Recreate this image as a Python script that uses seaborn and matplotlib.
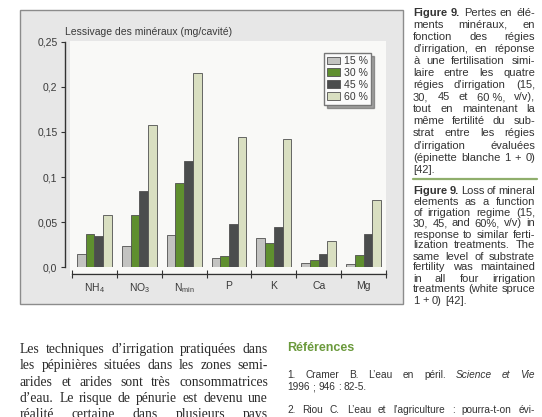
import numpy as np
import pandas as pd
import matplotlib
matplotlib.use('Agg')
import matplotlib.pyplot as plt
from matplotlib.patches import Rectangle
from matplotlib.lines import Line2D
import seaborn as sns

# Chart values (mg/cavité)
elements = [r'NH$_4$', r'NO$_3$', r'N$_{min}$', 'P', 'K', 'Ca', 'Mg']
regimes = ['15 %', '30 %', '45 %', '60 %']
loss_15 = [0.0144, 0.0236, 0.0355, 0.0107, 0.0329, 0.0048, 0.0037]
loss_30 = [0.0373, 0.0576, 0.0938, 0.0126, 0.0266, 0.0085, 0.0136]
loss_45 = [0.0343, 0.0846, 0.1178, 0.0476, 0.0447, 0.0144, 0.0369]
loss_60 = [0.0576, 0.1580, 0.2150, 0.1448, 0.1425, 0.0295, 0.0746]
colors = ['#c3c3c1', '#5f8f2f', '#4b4d4d', '#d9dfc1']
y_ticks = [0, 0.05, 0.1, 0.15, 0.2, 0.25]
y_tick_labels = ['0,0', '0,05', '0,1', '0,15', '0,2', '0,25']
y_title = 'Lessivage des minéraux (mg/cavité)'

# Page text around the chart
fr_caption = [
    'Figure 9. Pertes en élé-',
    'ments minéraux, en',
    'fonction des régies',
    'd’irrigation, en réponse',
    'à une fertilisation simi-',
    'laire entre les quatre',
    'régies d’irrigation (15,',
    '30, 45 et 60\u00a0%, v/v),',
    'tout en maintenant la',
    'même fertilité du sub-',
    'strat entre les régies',
    'd’irrigation évaluées',
    '(épinette blanche 1 + 0)',
    '[42].',
]
en_caption = [
    'Figure 9. Loss of mineral',
    'elements as a function',
    'of irrigation regime (15,',
    '30, 45, and 60%, v/v) in',
    'response to similar ferti-',
    'lization treatments. The',
    'same level of substrate',
    'fertility was maintained',
    'in all four irrigation',
    'treatments (white spruce',
    '1 + 0) [42].',
]
paragraph = [
    'Les techniques d’irrigation pratiquées dans',
    'les pépinières situées dans les zones semi-',
    'arides et arides sont très consommatrices',
    'd’eau. Le risque de pénurie est devenu une',
    'réalité certaine dans plusieurs pays',
]

df = pd.DataFrame({
    'element': elements * 4,
    'regime': np.repeat(regimes, len(elements)),
    'value': loss_15 + loss_30 + loss_45 + loss_60,
})

sns.set_style('ticks')
plt.rcParams['font.family'] = ['Liberation Sans', 'DejaVu Sans']
plt.rcParams['mathtext.default'] = 'regular'

W, H = 542, 417
fig = plt.figure(figsize=(W / 100, H / 100), dpi=100, facecolor='white')


def fx(x):
    return x / W


def fy(y):
    return 1 - y / H


# grey frame and white plotting panel
fig.patches.append(Rectangle((fx(20), fy(304)), fx(383), (304 - 10) / H,
                             transform=fig.transFigure, facecolor='#e7e7e7',
                             edgecolor='#8c8c8c', lw=1.0, zorder=-3))
fig.patches.append(Rectangle((fx(70), fy(276)), fx(316), (276 - 41) / H,
                             transform=fig.transFigure, facecolor='#f9f9f7',
                             edgecolor='none', zorder=-2))

ax = fig.add_axes([fx(72), fy(267.3), fx(314), (267.3 - 41.7) / H])
ax.set_facecolor('none')
ax.patch.set_alpha(0)

sns.barplot(data=df, x='element', y='value', hue='regime', order=elements,
            hue_order=regimes, palette=colors, saturation=1, width=0.78,
            edgecolor='#505050', linewidth=0.6, ax=ax)

ax.set_xlim(-0.5, len(elements) - 0.5)
ax.set_ylim(0, 0.25)
ax.set_yticks(y_ticks)
ax.set_yticklabels(y_tick_labels)
ax.set_xticks(range(len(elements)))
ax.set_xticklabels(elements)
ax.set_xticks(np.arange(-0.5, len(elements), 1), minor=True)
ax.set_xlabel('')
ax.set_ylabel('')
ax.tick_params(axis='x', which='major', length=0, pad=5, labelsize=7.5,
               labelcolor='#3a3a3a')
ax.tick_params(axis='x', which='minor', direction='inout', length=6,
               width=0.8, color='#333333')
ax.tick_params(axis='y', direction='out', length=3, width=0.8,
               color='#333333', pad=2.5, labelsize=7.5, labelcolor='#3a3a3a')
sns.despine(ax=ax, offset=5)
for side in ['left', 'bottom']:
    ax.spines[side].set_color('#333333')
    ax.spines[side].set_linewidth(1.0)

fig.text(fx(65), fy(32), y_title, fontsize=7.5, color='#3a3a3a',
         ha='left', va='center')

handles, labels = ax.get_legend_handles_labels()
leg = ax.legend(handles, labels, loc='upper right',
                bbox_to_anchor=(0.952, 0.95), borderaxespad=0,
                frameon=True, fancybox=False, shadow=True, framealpha=1,
                edgecolor='#777777', facecolor='#fbfbfb', fontsize=7.6,
                handlelength=1.2, handleheight=0.75, labelspacing=0.18,
                handletextpad=0.35, borderpad=0.3)
for h in leg.get_patches():
    h.set_edgecolor('#505050')
    h.set_linewidth(0.6)
for t in leg.get_texts():
    t.set_color('#3a3a3a')

renderer = fig.canvas.get_renderer()


def text_width(s, **kw):
    t = fig.text(0, 0, s, **kw)
    w = t.get_window_extent(renderer).width
    t.remove()
    return w


def justify(line, x0, x1, y, styles=None, last=False, **kw):
    # y is the text baseline in pixels from the top
    words = line.split(' ')
    styles = styles or [{}] * len(words)
    kw = dict(kw)
    for _ in range(2):
        widths = [text_width(w, **kw, **st) for w, st in zip(words, styles)]
        space = text_width('a a', **kw) - text_width('aa', **kw)
        need = sum(widths) + (len(words) - 1) * space * 0.6
        if need <= x1 - x0:
            break
        kw['fontsize'] = kw['fontsize'] * (x1 - x0) / need
    if last or len(words) == 1:
        gap = space
    else:
        gap = (x1 - x0 - sum(widths)) / (len(words) - 1)
    x = x0
    for w, st, wd in zip(words, styles, widths):
        fig.text(fx(x), fy(y), w, ha='left', va='baseline', **kw, **st)
        x += wd + gap


cap_kw = dict(fontsize=8.0, color='#333333')
bold = {'fontweight': 'bold'}
for i, line in enumerate(fr_caption):
    st = [bold, bold] + [{}] * 10 if i == 0 else None
    justify(line, 413, 535, 15.5 + i * 12.1, styles=st,
            last=(i == len(fr_caption) - 1), **cap_kw)

fig.add_artist(Line2D([fx(413), fx(537)], [fy(179), fy(179)],
                      color='#8fae6c', lw=1.6))

for i, line in enumerate(en_caption):
    st = [bold, bold] + [{}] * 10 if i == 0 else None
    justify(line, 413, 535, 193.5 + i * 11, styles=st,
            last=(i == len(en_caption) - 1), **cap_kw)

para_kw = dict(fontsize=9.8, color='#2a2a2a',
               family=['Liberation Serif', 'DejaVu Serif'])
for i, line in enumerate(paragraph):
    justify(line, 20, 268, 353 + i * 16.3, **para_kw)

fig.text(fx(287), fy(348), 'Références', fontsize=9, fontweight='bold',
         color='#6b9a3c', ha='left', va='center')
ref_kw = dict(fontsize=7.3, color='#333333')
ital = {'fontstyle': 'italic'}
justify('1. Cramer B. L’eau en péril. Science et Vie', 287, 535, 378,
        styles=[{}] * 6 + [ital] * 3, **ref_kw)
justify('1996 ; 946 : 82-5.', 287, 535, 390, last=True, **ref_kw)
justify('2. Riou C. L’eau et l’agriculture : pourra-t-on évi-', 287, 535,
        413, **ref_kw)

fig.savefig('out.png', dpi=100)
